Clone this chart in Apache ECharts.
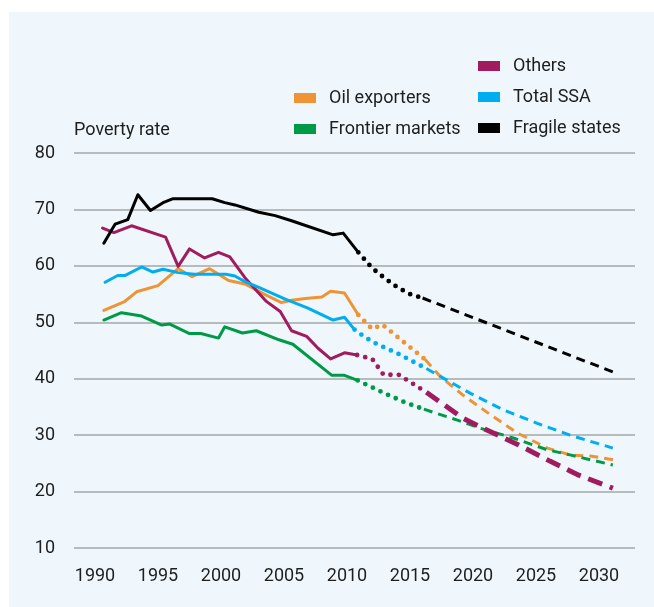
<!DOCTYPE html>
<html>
<head>
<meta charset="utf-8">
<script src="https://cdn.jsdelivr.net/npm/echarts@6/dist/echarts.min.js"></script>
<style>
  body { margin: 0; background: #ffffff; }
  #bg { position: absolute; left: 9px; top: 12px; right: 0; bottom: 0; background: #eff7fc; }
  #chart { position: absolute; left: 0; top: 0; width: 654px; height: 607px; }
</style>
</head>
<body>
<div id="bg"></div>
<div id="chart"></div>
<script>
// tick labels
const yearTicks = [1990, 1995, 2000, 2005, 2010, 2015, 2020, 2025, 2030]

// [year, poverty rate]; solid = estimates, dotted = nowcast, dashed = projection
const fragileSolid = [[1990.7, 64.0], [1991.6, 67.4], [1992.6, 68.2], [1993.4, 72.6], [1994.4, 69.8], [1995.4, 71.2], [1996.2, 71.9], [1999.3, 71.9], [2000.3, 71.2], [2001.1, 70.8], [2003.0, 69.5], [2004.3, 68.9], [2005.6, 68.0], [2008.9, 65.5], [2009.7, 65.8], [2010.9, 62.4]]
const fragileDotted = [[2010.9, 62.4], [2012.0, 59.6], [2013.0, 57.8], [2014.0, 56.2], [2015.0, 55.0], [2016.0, 54.3]]
const fragileDashed = [[2016.0, 54.3], [2031.1, 41.2]]

const oilSolid = [[1990.7, 52.1], [1992.3, 53.6], [1993.3, 55.4], [1995.0, 56.5], [1996.6, 59.5], [1997.7, 58.1], [1999.1, 59.5], [2000.6, 57.4], [2001.9, 56.8], [2003.5, 54.9], [2004.8, 53.5], [2005.6, 53.9], [2006.7, 54.2], [2008.0, 54.5], [2008.7, 55.5], [2009.8, 55.2], [2010.9, 51.3]]
const oilDotted = [[2010.9, 51.3], [2012.0, 48.8], [2012.8, 49.6], [2016.2, 43.4]]
const oilDashed = [[2016.2, 43.4], [2017.4, 40.4], [2019.2, 37.1], [2021.4, 33.6], [2023.5, 30.4], [2025.9, 27.7], [2027.7, 26.5], [2029.3, 26.3], [2031.2, 25.6]]

const ssaSolid = [[1990.8, 57.1], [1991.8, 58.3], [1992.4, 58.3], [1993.7, 59.8], [1994.6, 58.9], [1995.4, 59.4], [1996.6, 58.8], [1997.9, 58.5], [2000.4, 58.5], [2001.1, 58.2], [2001.9, 57.2], [2003.0, 56.2], [2005.1, 54.1], [2006.9, 52.5], [2008.9, 50.4], [2009.8, 50.9], [2010.6, 48.7]]
const ssaDotted = [[2010.6, 48.7], [2011.4, 47.4], [2012.4, 46.1], [2014.0, 44.5], [2016.3, 41.8]]
const ssaDashed = [[2016.3, 41.8], [2019.8, 37.4], [2022.4, 34.5], [2025.1, 32.1], [2027.7, 30.0], [2031.1, 27.7]]

const othersSolid = [[1990.6, 66.7], [1991.5, 65.9], [1992.9, 67.1], [1995.6, 65.1], [1996.6, 59.9], [1997.5, 63.0], [1998.7, 61.4], [1999.8, 62.4], [2000.7, 61.6], [2001.9, 57.9], [2003.6, 53.7], [2004.7, 51.9], [2005.6, 48.5], [2006.8, 47.5], [2007.7, 45.4], [2008.7, 43.5], [2009.8, 44.6], [2010.8, 44.2]]
const othersDotted = [[2010.8, 44.2], [2012.0, 43.5], [2012.9, 40.7], [2014.1, 40.7], [2016.3, 37.6]]
const othersDashed = [[2016.3, 37.6], [2019.2, 33.0], [2021.1, 30.9], [2023.5, 28.4], [2026.1, 25.4], [2028.4, 22.9], [2031.1, 20.6]]

const frontierSolid = [[1990.7, 50.4], [1992.1, 51.7], [1993.7, 51.1], [1995.3, 49.5], [1995.9, 49.7], [1997.5, 48.0], [1998.4, 48.0], [1999.8, 47.2], [2000.3, 49.2], [2001.7, 48.1], [2002.8, 48.5], [2004.6, 46.9], [2005.7, 46.1], [2008.8, 40.6], [2009.8, 40.6], [2010.85, 39.7]]
const frontierDotted = [[2010.85, 39.7], [2013.0, 37.4], [2014.6, 35.8], [2016.1, 34.6]]
const frontierDashed = [[2016.1, 34.6], [2018.7, 32.7], [2020.6, 31.2], [2023.2, 29.5], [2025.9, 27.4], [2027.7, 26.5], [2031.1, 24.7]]

const font = 'Roboto, "Noto Sans", sans-serif'
const textColor = '#1e1e1e'
const fontSize = 18

const groups = [
  { name: 'Oil exporters', color: '#ef9434', parts: [oilSolid, oilDotted, oilDashed], dash: [9, 6], dashWidth: 3 },
  { name: 'Frontier markets', color: '#009a46', parts: [frontierSolid, frontierDotted, frontierDashed], dash: [9, 6], dashWidth: 3 },
  { name: 'Others', color: '#a01c5e', parts: [othersSolid, othersDotted, othersDashed], dash: [15, 8], dashWidth: 5 },
  { name: 'Total SSA', color: '#00aeef', parts: [ssaSolid, ssaDotted, ssaDashed], dash: [9, 6], dashWidth: 3 },
  { name: 'Fragile states', color: '#000000', parts: [fragileSolid, fragileDotted, fragileDashed], dash: [9, 6], dashWidth: 3 }
]

const series = []
groups.forEach(g => {
  const styles = [
    { width: 3, type: 'solid', cap: 'round', join: 'round' },
    { width: 4.8, type: [0, 8.4], cap: 'round' },
    { width: g.dashWidth, type: g.dash, cap: 'butt' }
  ]
  g.parts.forEach((data, i) => {
    series.push({
      name: g.name,
      type: 'line',
      data: data,
      showSymbol: false,
      silent: true,
      color: g.color,
      itemStyle: { color: g.color },
      lineStyle: Object.assign({ color: g.color }, styles[i]),
      z: i === 0 ? 3 : 2
    })
  })
})

const legendBase = {
  orient: 'vertical',
  icon: 'rect',
  padding: 0,
  itemWidth: 22,
  itemHeight: 10,
  itemGap: 11,
  selectedMode: false,
  itemStyle: { borderWidth: 0 },
  textStyle: { fontFamily: font, fontSize: fontSize, color: textColor, lineHeight: 20, padding: [0, 0, 0, 8] }
}

const chart = echarts.init(document.getElementById('chart'), null, { renderer: 'canvas' })
chart.setOption({
  animation: false,
  backgroundColor: 'transparent',
  legend: [
    Object.assign({}, legendBase, { left: 294, top: 88, data: ['Oil exporters', 'Frontier markets'] }),
    Object.assign({}, legendBase, { left: 478, top: 56, data: ['Others', 'Total SSA', 'Fragile states'] })
  ],
  grid: { left: 74, right: 19, top: 153, height: 395 },
  xAxis: {
    type: 'value',
    min: 1988.333,
    max: 2032.857,
    axisLine: { show: false },
    axisTick: { show: false },
    splitLine: { show: false },
    axisLabel: {
      customValues: yearTicks,
      formatter: v => String(v),
      margin: 19,
      fontFamily: font,
      fontSize: fontSize,
      color: textColor
    }
  },
  yAxis: {
    type: 'value',
    min: 10,
    max: 80,
    interval: 10,
    name: 'Poverty rate',
    nameLocation: 'end',
    nameGap: 23,
    nameTextStyle: { align: 'left', verticalAlign: 'middle', fontFamily: font, fontSize: fontSize, color: textColor },
    axisLine: { show: false },
    axisTick: { show: false },
    axisLabel: { margin: 19, fontFamily: font, fontSize: fontSize, color: textColor },
    splitLine: { lineStyle: { color: '#a3a7aa', width: 1.5 } }
  },
  series: series
})
</script>
</body>
</html>
